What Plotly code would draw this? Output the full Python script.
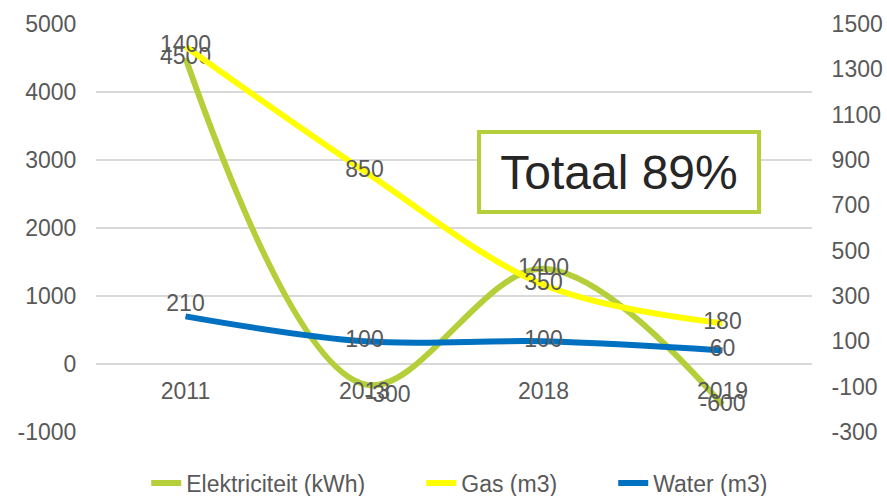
import plotly.graph_objects as go

years = ['2011', '2013', '2018', '2019']
elektriciteit = [4500, -300, 1400, -600]
gas = [1400, 850, 350, 180]
water = [210, 100, 100, 60]

left_ticks = [-1000, 0, 1000, 2000, 3000, 4000, 5000]
right_ticks = [-300, -100, 100, 300, 500, 700, 900, 1100, 1300, 1500]

FONT = 'Liberation Sans, Arial, sans-serif'
GREY = '#595959'
SIZE = 23
PAD = '\u00a0' * 8  # extra room between legend entries

fig = go.Figure()

fig.add_trace(go.Scatter(
    x=years, y=elektriciteit, name='Elektriciteit (kWh)' + PAD, yaxis='y',
    mode='lines+text', text=[str(v) for v in elektriciteit],
    textposition=['middle center', 'bottom right', 'middle center', 'middle center'],
    textfont=dict(size=SIZE, color=GREY, family=FONT),
    line=dict(color='#b5cf3a', width=6, shape='spline', smoothing=1.0),
))
fig.add_trace(go.Scatter(
    x=years, y=gas, name='Gas (m3)' + PAD, yaxis='y2',
    mode='lines+text', text=[str(v) for v in gas],
    textposition='middle center', textfont=dict(size=SIZE, color=GREY, family=FONT),
    line=dict(color='#ffff00', width=6, shape='spline', smoothing=1.0),
))
fig.add_trace(go.Scatter(
    x=years, y=water, name='Water (m3)', yaxis='y2',
    mode='lines+text', text=[str(v) for v in water],
    textposition=['top center', 'middle center', 'middle center', 'middle center'],
    textfont=dict(size=SIZE, color=GREY, family=FONT),
    line=dict(color='#0070c0', width=6, shape='spline', smoothing=1.0),
))

fig.add_annotation(
    text='Totaal 89%', xref='paper', yref='paper', x=0.730, y=0.637,
    xanchor='center', yanchor='middle',
    showarrow=False, font=dict(size=48, color='#262626', family=FONT),
    bgcolor='white', bordercolor='#b5cf3a', borderwidth=4, borderpad=1,
    width=274, height=74,
)

fig.update_layout(
    width=887, height=496,
    margin=dict(l=96, r=75, t=24, b=64, autoexpand=False),
    paper_bgcolor='white', plot_bgcolor='white',
    font=dict(family=FONT, size=SIZE, color=GREY),
    showlegend=True,
    legend=dict(orientation='h', x=0.508, xanchor='center', y=-0.125, yanchor='middle',
                font=dict(size=SIZE, color=GREY), tracegroupgap=0),
    xaxis=dict(type='category', range=[-0.5, 3.5], showgrid=False, zeroline=False,
               showline=False, anchor='free', position=1/6, automargin=False,
               ticks='outside', ticklen=6, tickcolor='rgba(0,0,0,0)',
               tickfont=dict(size=SIZE, color=GREY)),
    yaxis=dict(range=[-1000, 5000], tickvals=left_ticks, ticktext=[str(t) for t in left_ticks],
               showgrid=True, gridcolor='#d9d9d9', gridwidth=1.5, zeroline=False,
               showline=False, automargin=False,
               ticks='outside', ticklen=14, tickcolor='rgba(0,0,0,0)',
               tickfont=dict(size=SIZE, color=GREY)),
    yaxis2=dict(range=[-300, 1500], tickvals=right_ticks, ticktext=[str(t) for t in right_ticks],
                overlaying='y', side='right', automargin=False,
                showgrid=False, zeroline=False, showline=False,
                ticks='outside', ticklen=14, tickcolor='rgba(0,0,0,0)',
                tickfont=dict(size=SIZE, color=GREY)),
)

fig.write_html('out.html', config={'displayModeBar': False},
               post_script="document.body.style.margin='0';")
